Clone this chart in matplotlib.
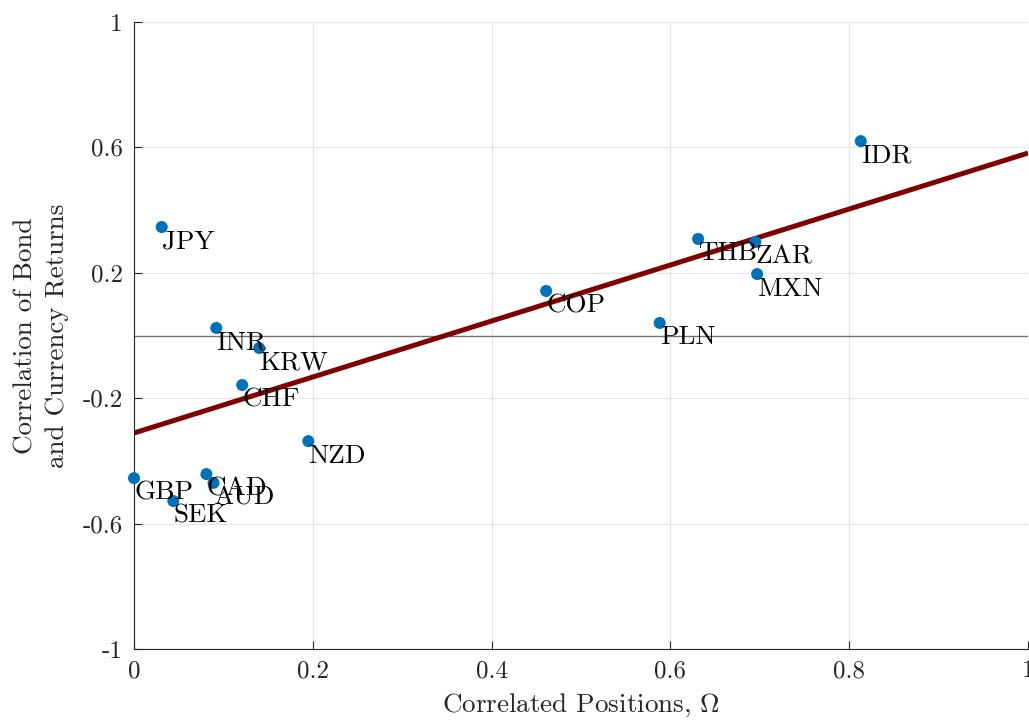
import matplotlib
matplotlib.use("Agg")
import matplotlib.pyplot as plt
import numpy as np

currencies = ["IDR", "JPY", "THB", "ZAR", "MXN", "COP", "PLN", "INR", "KRW",
              "CHF", "NZD", "GBP", "CAD", "AUD", "SEK"]
omega = [0.813, 0.031, 0.631, 0.695, 0.697, 0.461, 0.588, 0.092, 0.140,
         0.121, 0.195, 0.000, 0.081, 0.089, 0.044]
corr = [0.620, 0.346, 0.308, 0.298, 0.196, 0.142, 0.040, 0.024, -0.040,
        -0.158, -0.337, -0.455, -0.442, -0.470, -0.528]
fit_intercept = -0.311
fit_slope = 0.893

xticks = [0, 0.2, 0.4, 0.6, 0.8, 1]
xticklabels = ["0", "0.2", "0.4", "0.6", "0.8", "1"]
yticks = [-1, -0.6, -0.2, 0.2, 0.6, 1]
yticklabels = ["-1", "-0.6", "-0.2", "0.2", "0.6", "1"]

plt.rcParams['font.family'] = ['cmr10', 'DejaVu Serif']
plt.rcParams['axes.unicode_minus'] = False
plt.rcParams['mathtext.fontset'] = 'cm'
FS_TICK = 18
FS = 19.5

fig = plt.figure(figsize=(10.29, 7.2), dpi=100)
ax = fig.add_axes([134 / 1029, 1 - 649 / 720, 894 / 1029, 627 / 720])

ax.set_xlim(0, 1)
ax.set_ylim(-1, 1)
ax.set_xticks(xticks)
ax.set_xticklabels(xticklabels)
ax.set_yticks(yticks)
ax.set_yticklabels(yticklabels)
ax.grid(True, color=(0.9, 0.9, 0.9), linewidth=0.9)
ax.set_axisbelow(True)
for s in ["top", "right"]:
    ax.spines[s].set_visible(False)
for s in ["left", "bottom"]:
    ax.spines[s].set_color((0.15, 0.15, 0.15))
    ax.spines[s].set_linewidth(0.8)
ax.tick_params(direction="in", length=6, width=0.8, colors=(0.15, 0.15, 0.15),
               labelsize=FS_TICK, labelcolor=(0.15, 0.15, 0.15), pad=8)

ax.axhline(0, color=(0.45, 0.45, 0.45), linewidth=1.0, zorder=1)

fx = np.array([0.0, 1.0])
ax.plot(fx, fit_intercept + fit_slope * fx, color=(0.5, 0, 0), linewidth=3.6, zorder=2,
        solid_capstyle="butt")

ax.scatter(omega, corr, s=75, color="#0072BD", zorder=3, edgecolors="none", clip_on=False)
for name, x, y in zip(currencies, omega, corr):
    ax.annotate(name, (x, y), xytext=(0, -2), textcoords="offset points",
                ha="left", va="top", fontsize=FS, color="black", zorder=4)

ax.set_xlabel(r"Correlated Positions, $\Omega$", fontsize=FS, color=(0.15, 0.15, 0.15),
              labelpad=7)
ax.set_ylabel("Correlation of Bond\nand Currency Returns", fontsize=FS,
              color=(0.15, 0.15, 0.15), labelpad=10, linespacing=1.4)

fig.savefig("out.png", dpi=100)
